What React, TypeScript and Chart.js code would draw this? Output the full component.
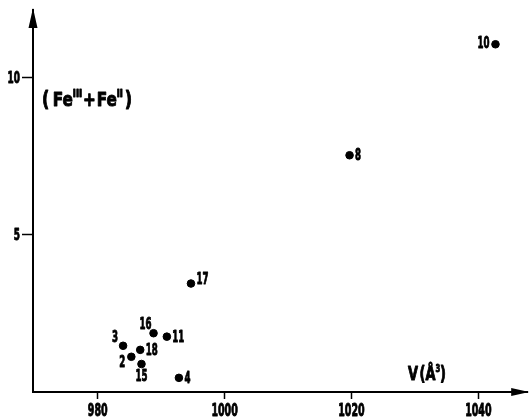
import React, { useEffect, useRef } from "react";
import { Chart, registerables } from "chart.js";

Chart.register(...registerables);

// ---- data ----
const pointLabels = ["10", "8", "17", "16", "11", "3", "18", "2", "15", "4"];
const volumeA3 = [1042.7, 1019.7, 994.7, 988.8, 990.9, 984.0, 986.7, 985.3, 986.9, 992.8];
const feRatio = [11.06, 7.53, 3.45, 1.87, 1.76, 1.47, 1.34, 1.12, 0.89, 0.45];
const labelSide = ["left", "right", "upRight", "upLeft", "right", "upLeft", "right", "downLeft", "below", "right"];
const xTickValues = [980, 1000, 1020, 1040];
const yTickValues = [5, 10];

const FONT = '"DejaVu Sans Condensed", "Liberation Sans Narrow", "Arial Narrow", sans-serif';
const BOLDEN = 0.9;

type Piece = { t: string; size: number; rise: number; gap?: number };

function drawPieces(
  ctx: CanvasRenderingContext2D,
  pieces: Piece[],
  x: number,
  baseline: number,
  targetWidth: number
) {
  ctx.save();
  let natural = 0;
  for (const p of pieces) {
    ctx.font = `bold ${p.size}px ${FONT}`;
    natural += ctx.measureText(p.t).width + (p.gap || 0);
  }
  const sx = targetWidth / natural;
  ctx.translate(x, baseline);
  ctx.scale(sx, 1);
  ctx.fillStyle = "#000";
  ctx.strokeStyle = "#000";
  ctx.lineWidth = BOLDEN;
  ctx.lineJoin = "round";
  ctx.textAlign = "left";
  ctx.textBaseline = "alphabetic";
  let cx = 0;
  for (const p of pieces) {
    ctx.font = `bold ${p.size}px ${FONT}`;
    ctx.fillText(p.t, cx, -p.rise);
    ctx.strokeText(p.t, cx, -p.rise);
    cx += ctx.measureText(p.t).width + (p.gap || 0);
  }
  ctx.restore();
}

function drawCondensed(
  ctx: CanvasRenderingContext2D,
  text: string,
  x: number,
  y: number,
  size: number,
  align: "left" | "right" | "center",
  sx: number
) {
  ctx.save();
  ctx.font = `bold ${size}px ${FONT}`;
  const w = ctx.measureText(text).width * sx;
  const left = align === "left" ? x : align === "right" ? x - w : x - w / 2;
  ctx.translate(left, y);
  ctx.scale(sx, 1);
  ctx.fillStyle = "#000";
  ctx.strokeStyle = "#000";
  ctx.lineWidth = BOLDEN;
  ctx.lineJoin = "round";
  ctx.textAlign = "left";
  ctx.textBaseline = "middle";
  ctx.fillText(text, 0, 0);
  ctx.strokeText(text, 0, 0);
  ctx.restore();
}

const decorPlugin = {
  id: "decor",
  afterDraw(chart: any) {
    const ctx: CanvasRenderingContext2D = chart.ctx;
    const area = chart.chartArea;
    const xs = chart.scales.x;
    const ys = chart.scales.y;

    // tick labels (positions from the library's scales)
    xTickValues.forEach((v) => {
      drawCondensed(ctx, String(v), xs.getPixelForValue(v), area.bottom + 20, 17, "center", 0.62);
    });
    yTickValues.forEach((v) => {
      drawCondensed(ctx, String(v), area.left - 13, ys.getPixelForValue(v) + 1, 16, "right", 0.62);
    });

    // point labels
    const meta = chart.getDatasetMeta(0);
    const LS = 16;
    const LSX = 0.6;
    meta.data.forEach((el: any, i: number) => {
      const side = labelSide[i];
      const t = pointLabels[i];
      const { x, y } = el;
      if (side === "left") drawCondensed(ctx, t, x - 6, y, LS, "right", LSX);
      else if (side === "right") drawCondensed(ctx, t, x + 5.5, y + 1, LS, "left", LSX);
      else if (side === "upRight") drawCondensed(ctx, t, x + 5.5, y - 4, LS, "left", LSX);
      else if (side === "upLeft") drawCondensed(ctx, t, x - 8, y - 8, LS, "center", LSX);
      else if (side === "downLeft") drawCondensed(ctx, t, x - 9, y + 6, LS, "center", LSX);
      else if (side === "below") drawCondensed(ctx, t, x, y + 13, LS, "center", LSX);
    });

    // arrows
    ctx.save();
    ctx.fillStyle = "#000";
    const ax = area.left;
    ctx.beginPath();
    ctx.moveTo(ax, area.top - 2);
    ctx.lineTo(ax - 4.5, area.top + 18);
    ctx.lineTo(ax + 4.5, area.top + 18);
    ctx.closePath();
    ctx.fill();
    const ay = area.bottom;
    ctx.beginPath();
    ctx.moveTo(area.right + 2, ay);
    ctx.lineTo(area.right - 16, ay - 4);
    ctx.lineTo(area.right - 16, ay + 4);
    ctx.closePath();
    ctx.fill();
    ctx.restore();

    // axis titles
    drawPieces(
      ctx,
      [
        { t: "(", size: 21, rise: 0, gap: 4 },
        { t: "Fe", size: 20, rise: 0 },
        { t: "III", size: 11, rise: 9, gap: 1 },
        { t: "+", size: 20, rise: 0, gap: 1 },
        { t: "Fe", size: 20, rise: 0 },
        { t: "II", size: 11, rise: 9, gap: 2 },
        { t: ")", size: 21, rise: 0 },
      ],
      area.left + 9,
      106,
      90
    );
    drawPieces(
      ctx,
      [
        { t: "V", size: 19, rise: 0, gap: 2 },
        { t: "(Å", size: 19, rise: 0 },
        { t: "3", size: 10, rise: 8 },
        { t: ")", size: 19, rise: 0 },
      ],
      408,
      380,
      38
    );
  },
};

export default function App() {
  const ref = useRef<HTMLCanvasElement | null>(null);
  useEffect(() => {
    if (!ref.current) return;
    const chart = new Chart(ref.current, {
      type: "scatter",
      data: {
        datasets: [
          {
            data: volumeA3.map((v, i) => ({ x: v, y: feRatio[i] })),
            backgroundColor: "#000",
            borderColor: "#000",
            pointRadius: 3.8,
            pointHoverRadius: 3.8,
          },
        ],
      },
      options: {
        responsive: false,
        animation: false,
        events: [],
        layout: { padding: { top: 10, right: 2, left: 0, bottom: 0 } },
        plugins: { legend: { display: false }, tooltip: { enabled: false } },
        scales: {
          x: {
            type: "linear",
            min: 969.8,
            max: 1047.7,
            afterBuildTicks: (s: any) => {
              s.ticks = xTickValues.map((v) => ({ value: v }));
            },
            afterFit: (s: any) => {
              s.height = 27;
            },
            ticks: { display: false },
            grid: {
              display: true,
              drawOnChartArea: false,
              drawTicks: true,
              tickLength: 7,
              tickColor: "#000",
              tickWidth: 1.5,
            },
            border: { display: true, color: "#000", width: 2 },
          },
          y: {
            type: "linear",
            min: 0,
            max: 12.15,
            afterBuildTicks: (s: any) => {
              s.ticks = yTickValues.map((v) => ({ value: v }));
            },
            afterFit: (s: any) => {
              s.width = 33;
            },
            ticks: { display: false },
            grid: {
              display: true,
              drawOnChartArea: false,
              drawTicks: true,
              tickLength: 11,
              tickColor: "#000",
              tickWidth: 1.5,
            },
            border: { display: true, color: "#000", width: 2 },
          },
        },
      },
      plugins: [decorPlugin],
    });
    return () => chart.destroy();
  }, []);
  return (
    <div style={{ position: "fixed", left: 0, top: 0, width: 532, height: 419, background: "#fff" }}>
      <canvas ref={ref} width={532} height={419} style={{ display: "block" }} />
    </div>
  );
}
